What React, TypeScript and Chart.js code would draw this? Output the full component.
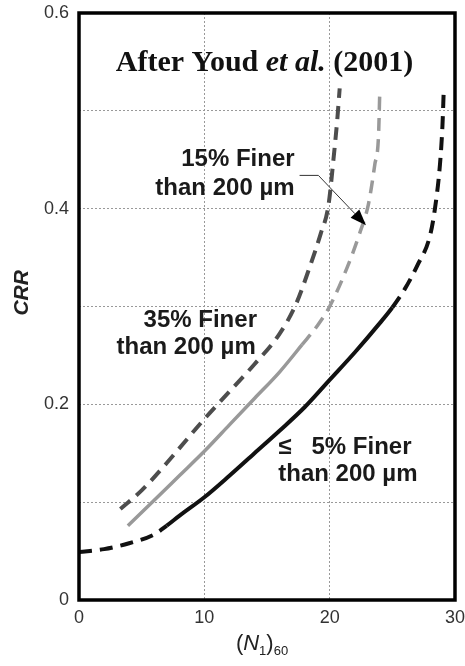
import React, { useEffect, useRef } from "react";
import { Chart, registerables } from "chart.js";

Chart.register(...registerables);

// (N1)60 values and CRR for each curve
const cleanN = [0, 2, 4, 6, 7, 8, 10, 12, 14, 16, 18, 20, 22, 24, 25, 26, 27, 28, 28.4, 28.8, 29.0, 29.1];
const cleanCRR = [0.049, 0.052, 0.058, 0.067, 0.076, 0.086, 0.105, 0.127, 0.15, 0.173, 0.197, 0.225, 0.253, 0.283, 0.299, 0.318, 0.342, 0.372, 0.4, 0.445, 0.485, 0.52];

const fines15N = [3.9, 6, 8, 10, 12, 14, 16, 17.8, 19, 20, 21.4, 22.4, 23.1, 23.6, 23.9, 24.0];
const fines15CRR = [0.076, 0.102, 0.127, 0.152, 0.179, 0.206, 0.233, 0.261, 0.28, 0.3, 0.34, 0.375, 0.405, 0.445, 0.475, 0.52];

const fines35N = [3.3, 5, 7, 8, 10, 12, 14, 16, 17.3, 18.4, 19.3, 19.9, 20.3, 20.6, 20.8];
const fines35CRR = [0.093, 0.112, 0.14, 0.155, 0.185, 0.213, 0.241, 0.272, 0.302, 0.34, 0.375, 0.403, 0.45, 0.49, 0.523];

const xTicks = [0, 10, 20, 30];
const yTickLabels = ["0", "0.2", "0.4", "0.6"];

const SANS = "'Liberation Sans', Arial, sans-serif";
const SERIF = "'Liberation Serif', 'Times New Roman', serif";

const pts = (xs: number[], ys: number[]) => xs.map((x, i) => ({ x, y: ys[i] }));

const annotPlugin = {
  id: "annot",
  afterDraw(chart: any) {
    const { ctx, chartArea: a, scales } = chart;
    const sx = (v: number) => scales.x.getPixelForValue(v);
    const sy = (v: number) => scales.y.getPixelForValue(v);
    ctx.save();

    // frame
    ctx.strokeStyle = "#000";
    ctx.lineWidth = 3.5;
    ctx.strokeRect(a.left, a.top, a.right - a.left, a.bottom - a.top);

    // title
    const parts: [string, string][] = [
      ["After Youd ", `bold 30px ${SERIF}`],
      ["et al.", `italic bold 30px ${SERIF}`],
      [" (2001)", `bold 30px ${SERIF}`],
    ];
    let total = 0;
    for (const [t, f] of parts) {
      ctx.font = f;
      total += ctx.measureText(t).width;
    }
    let cx = sx(14.8) - total / 2;
    ctx.fillStyle = "#111";
    ctx.textBaseline = "middle";
    for (const [t, f] of parts) {
      ctx.font = f;
      ctx.textAlign = "left";
      ctx.fillText(t, cx, sy(0.549));
      cx += ctx.measureText(t).width;
    }

    // curve labels
    ctx.font = `bold 24px ${SANS}`;
    ctx.fillStyle = "#1a1a1a";
    ctx.textAlign = "right";
    ctx.fillText("15% Finer", sx(17.2), sy(0.45));
    ctx.fillText("than 200 µm", sx(17.2), sy(0.421));
    ctx.fillText("35% Finer", sx(14.2), sy(0.286));
    ctx.fillText("than 200 µm", sx(14.1), sy(0.258));
    ctx.textAlign = "left";
    ctx.fillText("≤   5% Finer", sx(15.9), sy(0.156));
    ctx.fillText("than 200 µm", sx(15.9), sy(0.128));

    // leader with arrow
    const p0 = [sx(17.6), sy(0.434)];
    const p1 = [sx(19.1), sy(0.434)];
    const tip = [sx(22.9), sy(0.383)];
    ctx.strokeStyle = "#333";
    ctx.lineWidth = 1;
    ctx.beginPath();
    ctx.moveTo(p0[0], p0[1]);
    ctx.lineTo(p1[0], p1[1]);
    const ang = Math.atan2(tip[1] - p1[1], tip[0] - p1[0]);
    const hl = 16;
    const hw = 6;
    const bx = tip[0] - hl * Math.cos(ang);
    const by = tip[1] - hl * Math.sin(ang);
    ctx.lineTo(bx, by);
    ctx.stroke();
    ctx.fillStyle = "#000";
    ctx.beginPath();
    ctx.moveTo(tip[0], tip[1]);
    ctx.lineTo(bx + hw * Math.sin(ang), by - hw * Math.cos(ang));
    ctx.lineTo(bx - hw * Math.sin(ang), by + hw * Math.cos(ang));
    ctx.closePath();
    ctx.fill();

    // y-axis title
    ctx.save();
    ctx.translate(22, sy(0.314));
    ctx.rotate(-Math.PI / 2);
    ctx.font = `italic bold 21px ${SANS}`;
    ctx.fillStyle = "#222";
    ctx.textAlign = "center";
    ctx.textBaseline = "middle";
    ctx.fillText("CRR", 0, 0);
    ctx.restore();

    // x-axis title (N1)60
    const xparts: [string, string, number][] = [
      ["(", `22px ${SANS}`, 0],
      ["N", `italic 22px ${SANS}`, 0],
      ["1", `13px ${SANS}`, 7],
      [")", `22px ${SANS}`, 0],
      ["60", `13px ${SANS}`, 7],
    ];
    let tw = 0;
    for (const [t, f] of xparts) {
      ctx.font = f;
      tw += ctx.measureText(t).width;
    }
    let xx = (a.left + a.right) / 2 - 5 - tw / 2;
    const yy = a.bottom + 44;
    ctx.fillStyle = "#222";
    ctx.textAlign = "left";
    ctx.textBaseline = "middle";
    for (const [t, f, dy] of xparts) {
      ctx.font = f;
      ctx.fillText(t, xx, yy + dy);
      xx += ctx.measureText(t).width;
    }

    ctx.restore();
  },
};

export default function App() {
  const ref = useRef<HTMLCanvasElement | null>(null);
  useEffect(() => {
    if (!ref.current) return;
    const dash = [13, 8];
    const chart = new Chart(ref.current, {
      type: "line",
      data: {
        datasets: [
          {
            label: "≤ 5% Finer than 200 µm",
            data: pts(cleanN, cleanCRR),
            borderColor: "#111",
            borderWidth: 4,
            pointRadius: 0,
            cubicInterpolationMode: "monotone",
            segment: {
              borderDash: (c: any) =>
                c.p1.parsed.x <= 7 || c.p0.parsed.x >= 25 ? dash : undefined,
            },
          },
          {
            label: "15% Finer than 200 µm",
            data: pts(fines15N, fines15CRR),
            borderColor: "#999",
            borderWidth: 3.5,
            pointRadius: 0,
            cubicInterpolationMode: "monotone",
            segment: {
              borderDash: (c: any) => (c.p0.parsed.x >= 17.8 ? dash : undefined),
            },
          },
          {
            label: "35% Finer than 200 µm",
            data: pts(fines35N, fines35CRR),
            borderColor: "#4d4d4d",
            borderWidth: 4,
            borderDash: dash,
            pointRadius: 0,
            cubicInterpolationMode: "monotone",
          },
        ],
      } as any,
      options: {
        animation: false,
        responsive: true,
        maintainAspectRatio: false,
        layout: { padding: { top: 13, right: 10, left: 0, bottom: 0 } },
        plugins: { legend: { display: false }, tooltip: { enabled: false } },
        scales: {
          x: {
            type: "linear",
            min: 0,
            max: 30,
            afterBuildTicks: (s: any) => {
              s.ticks = xTicks.map((v) => ({ value: v }));
            },
            ticks: {
              font: { family: SANS, size: 18, lineHeight: 2 },
              color: "#333",
              padding: 0,
              maxRotation: 0,
            },
            grid: { color: "#999", lineWidth: 1, drawTicks: false },
            border: { display: false, dash: [2, 2] },
            afterFit: (s: any) => {
              s.height = 66;
            },
          },
          y: {
            type: "linear",
            min: 0,
            max: 0.6,
            ticks: {
              stepSize: 0.1,
              font: { family: SANS, size: 18, lineHeight: 0.2 },
              color: "#333",
              padding: 10,
              callback: (v: any) => {
                const k = Math.round(Number(v) * 10);
                return k % 2 === 0 ? yTickLabels[k / 2] : "";
              },
            },
            grid: { color: "#999", lineWidth: 1, drawTicks: false },
            border: { display: false, dash: [2, 2] },
            afterFit: (s: any) => {
              s.width = 79;
            },
          },
        },
      } as any,
      plugins: [annotPlugin],
    });
    return () => chart.destroy();
  }, []);
  return (
    <div style={{ position: "absolute", left: 0, top: 0, width: 465, height: 666, background: "#fff" }}>
      <canvas ref={ref} />
    </div>
  );
}
